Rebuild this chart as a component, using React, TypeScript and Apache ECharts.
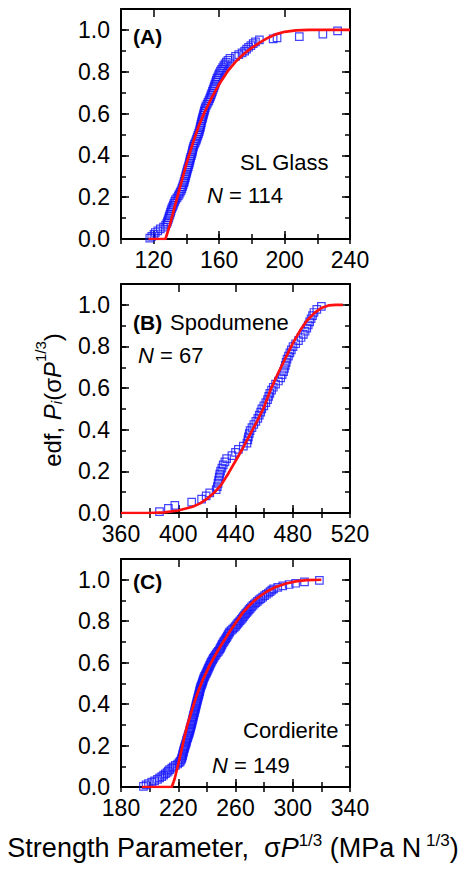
import React, { useEffect, useRef } from "react";
import * as echarts from "echarts";

const FONT = "'Liberation Sans', Arial, Helvetica, sans-serif";
const BLUE = "#1515ff";
const RED = "#ff1010";

// Panel A: SL Glass (N = 114) — empirical distribution [x, edf]
const glassEdf = [
  [117.6,0.004],[118.8,0.013],[120.2,0.022],[121.0,0.031],[122.5,0.039],[124.0,0.048],[126.0,0.057],[127.3,0.066],[128.0,0.075],[128.4,0.083],
  [128.8,0.092],[129.2,0.101],[129.5,0.110],[129.9,0.118],[130.3,0.127],[130.6,0.136],[131.0,0.145],[131.5,0.154],[132.0,0.162],[132.4,0.171],
  [132.9,0.180],[133.4,0.189],[134.2,0.197],[135.0,0.206],[135.6,0.215],[136.2,0.224],[136.8,0.232],[137.2,0.241],[137.6,0.250],[138.0,0.259],
  [138.4,0.268],[138.7,0.276],[139.0,0.285],[139.3,0.294],[139.6,0.303],[139.9,0.311],[140.2,0.320],[140.5,0.329],[140.8,0.338],[141.2,0.346],
  [141.5,0.355],[141.8,0.364],[142.1,0.373],[142.3,0.382],[142.6,0.390],[143.0,0.399],[143.3,0.408],[143.6,0.417],[143.8,0.425],[144.1,0.434],
  [144.4,0.443],[144.8,0.452],[145.3,0.460],[145.8,0.469],[146.2,0.478],[146.6,0.487],[147.0,0.496],[147.4,0.504],[147.8,0.513],[148.1,0.522],
  [148.4,0.531],[148.6,0.539],[148.9,0.548],[149.1,0.557],[149.4,0.566],[149.7,0.575],[150.0,0.583],[150.3,0.592],[150.6,0.601],[150.9,0.610],
  [151.2,0.618],[151.5,0.627],[152.0,0.636],[152.6,0.645],[153.2,0.654],[153.7,0.662],[154.2,0.671],[154.7,0.680],[155.1,0.689],[155.5,0.697],
  [155.9,0.706],[156.3,0.715],[156.7,0.724],[157.1,0.732],[157.5,0.741],[157.9,0.750],[158.3,0.759],[158.7,0.768],[159.2,0.776],[159.7,0.785],
  [160.2,0.794],[160.8,0.803],[161.5,0.811],[162.2,0.820],[162.9,0.829],[163.6,0.838],[164.4,0.846],[165.4,0.855],[166.6,0.864],[170.0,0.873],
  [172.0,0.882],[174.0,0.890],[175.6,0.899],[176.8,0.908],[178.0,0.917],[179.4,0.925],[180.8,0.934],[182.2,0.943],[184.6,0.952],[193.0,0.957],
  [195.4,0.962],[209.0,0.968],[223.4,0.980],[232.4,0.995]
];
// Panel A fitted curve
const glassFit = [
  [116.8,0],[127.2,0],[130,0.07],[133,0.16],[136.5,0.26],[140.2,0.365],[144,0.46],[147.5,0.54],[151,0.605],[155.4,0.675],
  [160,0.74],[165,0.8],[170,0.847],[175,0.885],[180,0.915],[185,0.94],[190,0.963],[195,0.98],[200,0.991],[207,0.998],[215,1.0],[240,1.0]
];

// Panel B: Spodumene (N = 67)
const spodEdf = [
  [386.9,0.007],[393.1,0.022],[397.6,0.037],[409.4,0.052],[416.3,0.067],[419.5,0.082],[422.0,0.097],[426.5,0.112],[427.3,0.127],[427.8,0.142],
  [428.2,0.157],[428.6,0.172],[429.0,0.187],[429.6,0.201],[430.5,0.216],[431.4,0.231],[432.6,0.246],[433.8,0.261],[437.5,0.276],[440.0,0.291],
  [442.0,0.306],[445.5,0.321],[448.0,0.336],[448.6,0.351],[449.0,0.366],[449.6,0.381],[450.2,0.396],[451.5,0.410],[452.8,0.425],[454.2,0.440],
  [455.6,0.455],[456.6,0.470],[457.6,0.485],[458.4,0.500],[459.8,0.515],[461.2,0.530],[462.4,0.545],[463.2,0.560],[464.0,0.575],[465.2,0.590],
  [466.4,0.604],[468.0,0.619],[470.0,0.634],[471.6,0.649],[472.6,0.664],[473.6,0.679],[474.2,0.694],[474.8,0.709],[475.4,0.724],[476.0,0.739],
  [477.0,0.754],[478.0,0.769],[479.0,0.784],[480.2,0.799],[482.0,0.813],[484.0,0.828],[485.8,0.843],[487.4,0.858],[488.6,0.873],[489.8,0.888],
  [490.8,0.903],[491.8,0.918],[492.8,0.933],[493.8,0.948],[494.8,0.963],[496.8,0.978],[500.0,0.993]
];
const spodFit = [
  [360,0],[380,0],[390,0.003],[400,0.012],[410,0.03],[415,0.045],[420,0.068],[425,0.097],[430,0.135],[435,0.19],[440,0.25],
  [445,0.31],[450,0.375],[455,0.44],[460,0.51],[465,0.6],[470,0.675],[475,0.745],[480,0.815],[485,0.875],[490,0.925],[495,0.96],
  [500,0.985],[505,0.997],[510,1.0],[515,1.0]
];

// Panel C: Cordierite (N = 149)
const cordX = [
  195.7,197.5,199.2,201.5,203.5,205.5,207.0,208.5,209.8,211.0,212.2,213.0,214.0,215.5,216.6,218.0,219.6,220.6,221.4,222.0,
  222.4,222.7,223.0,223.2,223.4,223.6,223.9,224.2,224.5,224.8,225.1,225.4,225.7,225.9,226.2,226.6,226.9,227.2,227.5,227.8,
  228.1,228.3,228.6,228.8,229.1,229.3,229.6,229.8,230.1,230.3,230.5,230.7,231.0,231.2,231.5,231.7,232.0,232.2,232.4,232.6,
  232.9,233.1,233.4,233.6,233.9,234.1,234.4,234.6,234.9,235.1,235.3,235.6,235.9,236.3,236.7,237.0,237.3,237.6,238.0,238.4,
  238.9,239.4,239.9,240.3,240.7,241.1,241.6,242.0,242.5,243.0,243.5,244.0,244.5,245.1,245.8,246.5,247.2,248.0,248.7,249.2,
  249.7,250.2,250.7,251.3,251.9,252.5,253.1,253.7,254.3,254.9,255.5,256.0,257.0,258.0,259.0,260.0,260.8,261.6,262.4,263.2,
  264.0,264.8,265.5,266.3,267.1,267.9,268.7,269.5,270.3,271.2,272.2,273.2,274.2,275.3,276.5,277.7,279.0,280.3,281.6,283.0,
  284.2,285.4,286.6,289.5,293.0,297.5,302.0,308.2,318.6
];
const cordY = [
  0.003,0.010,0.017,0.024,0.030,0.037,0.044,0.050,0.057,0.064,0.070,0.077,0.084,0.091,0.097,0.104,0.111,0.118,0.124,0.131,
  0.138,0.144,0.151,0.158,0.164,0.171,0.178,0.185,0.191,0.198,0.205,0.211,0.218,0.225,0.232,0.238,0.245,0.252,0.258,0.265,
  0.272,0.279,0.285,0.292,0.299,0.305,0.312,0.319,0.326,0.332,0.339,0.346,0.352,0.359,0.366,0.373,0.379,0.386,0.393,0.399,
  0.406,0.413,0.419,0.426,0.433,0.440,0.446,0.453,0.460,0.466,0.473,0.480,0.487,0.493,0.500,0.507,0.513,0.520,0.527,0.534,
  0.540,0.547,0.554,0.560,0.567,0.574,0.580,0.587,0.594,0.601,0.607,0.614,0.621,0.627,0.634,0.641,0.648,0.654,0.661,0.668,
  0.674,0.681,0.688,0.695,0.701,0.708,0.715,0.721,0.728,0.735,0.742,0.748,0.755,0.762,0.768,0.775,0.782,0.789,0.795,0.802,
  0.809,0.815,0.822,0.829,0.836,0.842,0.849,0.856,0.862,0.869,0.876,0.883,0.889,0.896,0.903,0.909,0.916,0.923,0.930,0.936,
  0.943,0.950,0.956,0.963,0.970,0.977,0.983,0.990,0.997
];
const cordFit = [
  [194.6,0],[215.5,0],[217.5,0.04],[220,0.11],[223,0.2],[226,0.29],[229.5,0.37],[233,0.445],[237,0.515],[242,0.588],[247,0.65],
  [251.4,0.7],[256,0.75],[260.7,0.797],[265,0.84],[270,0.878],[275,0.91],[281.6,0.942],[288,0.965],[295.5,0.982],[302,0.992],
  [309.4,0.998],[320,1.0]
];

// Axes
const glassRange = [100, 240];
const glassMajor = [120, 160, 200, 240];
const glassMinor = [100, 120, 140, 160, 180, 200, 220, 240];
const spodRange = [360, 520];
const spodMajor = [360, 400, 440, 480, 520];
const spodMinor = [360, 380, 400, 420, 440, 460, 480, 500, 520];
const cordRange = [180, 340];
const cordMajor = [180, 220, 260, 300, 340];
const cordMinor = [180, 200, 220, 240, 260, 280, 300, 320, 340];
const yMajor = [0, 0.2, 0.4, 0.6, 0.8, 1.0];
const yMinor = [0, 0.1, 0.2, 0.3, 0.4, 0.5, 0.6, 0.7, 0.8, 0.9, 1.0];

const grids = [
  { left: 121, top: 9, width: 229, height: 230 },
  { left: 121, top: 284, width: 229, height: 229 },
  { left: 121, top: 559, width: 229, height: 228 },
];

export default function App() {
  const ref = useRef<HTMLDivElement>(null);
  useEffect(() => {
    if (!ref.current) return;
    const chart = echarts.init(ref.current, undefined, { renderer: "svg" });
    const panels = [
      { range: glassRange, major: glassMajor, minor: glassMinor, edf: glassEdf, fit: glassFit },
      { range: spodRange, major: spodMajor, minor: spodMinor, edf: spodEdf, fit: spodFit },
      { range: cordRange, major: cordMajor, minor: cordMinor, edf: cordX.map((x, i) => [x, cordY[i]]), fit: cordFit },
    ];
    const xAxis: any[] = [];
    const yAxis: any[] = [];
    const series: any[] = [];
    const lineStyle = { color: "#000", width: 2 };
    const tickStyle = { color: "#000", width: 1.5 };
    const labelStyle = { fontSize: 23, fontFamily: FONT, color: "#000" };
    panels.forEach((p, g) => {
      const base = { type: "value", gridIndex: g, min: p.range[0], max: p.range[1], splitLine: { show: false } };
      xAxis.push({
        ...base, position: "bottom",
        axisLine: { show: true, onZero: false, lineStyle },
        axisTick: { show: true, inside: true, length: 8, customValues: p.major, lineStyle: tickStyle },
        axisLabel: { show: true, customValues: p.major, ...labelStyle, margin: 9 },
      });
      xAxis.push({
        ...base, position: "bottom",
        axisLine: { show: false },
        axisTick: { show: true, inside: true, length: 5, customValues: p.minor, lineStyle: tickStyle },
        axisLabel: { show: false },
      });
      xAxis.push({
        ...base, position: "top",
        axisLine: { show: true, onZero: false, lineStyle },
        axisTick: { show: true, inside: true, length: 8, customValues: p.major, lineStyle: tickStyle },
        axisLabel: { show: false },
      });
      xAxis.push({
        ...base, position: "top",
        axisLine: { show: false },
        axisTick: { show: true, inside: true, length: 5, customValues: p.minor, lineStyle: tickStyle },
        axisLabel: { show: false },
      });
      const ybase = { type: "value", gridIndex: g, min: 0, max: 1.1, splitLine: { show: false } };
      yAxis.push({
        ...ybase, position: "left",
        axisLine: { show: true, onZero: false, lineStyle },
        axisTick: { show: true, inside: true, length: 8, customValues: yMajor, lineStyle: tickStyle },
        axisLabel: { show: true, customValues: yMajor, ...labelStyle, margin: 11,
          formatter: (v: number) => v.toFixed(1) },
      });
      yAxis.push({
        ...ybase, position: "left",
        axisLine: { show: false },
        axisTick: { show: true, inside: true, length: 5, customValues: yMinor, lineStyle: tickStyle },
        axisLabel: { show: false },
      });
      yAxis.push({
        ...ybase, position: "right",
        axisLine: { show: true, onZero: false, lineStyle },
        axisTick: { show: true, inside: true, length: 8, customValues: yMajor, lineStyle: tickStyle },
        axisLabel: { show: false },
      });
      yAxis.push({
        ...ybase, position: "right",
        axisLine: { show: false },
        axisTick: { show: true, inside: true, length: 5, customValues: yMinor, lineStyle: tickStyle },
        axisLabel: { show: false },
      });
      series.push({
        type: "scatter", xAxisIndex: 4 * g, yAxisIndex: 4 * g, data: p.edf,
        symbol: "rect", symbolSize: 7.5,
        itemStyle: { color: "rgba(0,0,0,0)", borderColor: BLUE, borderWidth: 1.2 },
        z: 2,
      });
      series.push({
        type: "line", xAxisIndex: 4 * g, yAxisIndex: 4 * g, data: p.fit,
        showSymbol: false, symbol: "none", smooth: false,
        lineStyle: { color: RED, width: 2.7 }, z: 3,
      });
    });

    const txt = (x: number, y: number, text: string, extra: any = {}) => ({
      type: "text", x, y, z: 10,
      style: { text, fontSize: 22, fontFamily: FONT, fill: "#000", align: "left", verticalAlign: "middle", ...extra },
    });
    const nRich = { n: { fontStyle: "italic", fontSize: 22, fontFamily: FONT, fill: "#000" }, r: { fontSize: 22, fontFamily: FONT, fill: "#000" } };
    const mkRich = (fs: number, ss: number, lh: number) => ({
      r: { fontSize: fs, fontFamily: FONT, fill: "#000", lineHeight: lh, verticalAlign: "bottom" },
      it: { fontSize: fs, fontFamily: FONT, fill: "#000", fontStyle: "italic", lineHeight: lh, verticalAlign: "bottom" },
      sup: { fontSize: ss, fontFamily: FONT, fill: "#000", lineHeight: lh, verticalAlign: "top", padding: [1, 0, 0, 0] },
      sub: { fontSize: ss, fontFamily: FONT, fill: "#000", fontStyle: "italic", lineHeight: lh + 4, verticalAlign: "bottom" },
    });

    const graphic = [
      txt(133, 36, "(A)", { fontWeight: "bold", fontSize: 21 }),
      txt(240, 162, "SL Glass"),
      txt(207, 195, "{n|N}{r| = 114}", { rich: nRich }),
      txt(133, 322, "(B)", { fontWeight: "bold", fontSize: 21 }),
      txt(170, 322, "Spodumene"),
      txt(138, 355, "{n|N}{r| = 67}", { rich: nRich }),
      txt(133, 581, "(C)", { fontWeight: "bold", fontSize: 21 }),
      txt(243, 730, "Cordierite"),
      txt(212, 765, "{n|N}{r| = 149}", { rich: nRich }),
      {
        type: "text", x: 233, y: 846, z: 10,
        style: {
          text: "{r|Strength Parameter,  σ}{it|P}{sup|1/3}{r| (MPa N}{sup| 1/3}{r|)}",
          rich: mkRich(27, 17, 31), align: "center", verticalAlign: "middle", fontFamily: FONT, fontSize: 27,
        },
      },
      {
        type: "text", x: 48, y: 400, z: 10, rotation: Math.PI / 2,
        style: {
          text: "{r|edf, }{it|P}{sub|i}{r|(σ}{it|P}{sup|1/3}{r|)}",
          rich: mkRich(24, 15, 28), align: "center", verticalAlign: "middle", fontFamily: FONT, fontSize: 24,
        },
      },
    ];

    chart.setOption({
      animation: false,
      backgroundColor: "#fff",
      grid: grids.map((g) => ({ ...g, containLabel: false })),
      xAxis, yAxis, series, graphic,
    });
    return () => chart.dispose();
  }, []);
  return <div ref={ref} style={{ position: "absolute", left: 0, top: 0, width: 465, height: 870 }} />;
}
